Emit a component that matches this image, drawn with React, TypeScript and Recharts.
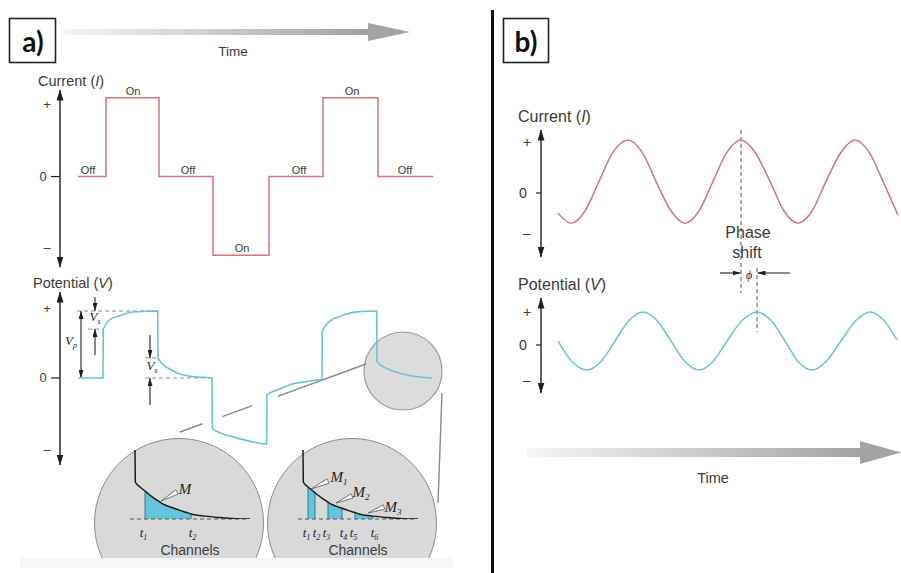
import React from 'react';
import {
  Area,
  ComposedChart,
  Line,
  LineChart,
  ReferenceDot,
  ReferenceLine,
  XAxis,
  YAxis,
} from 'recharts';

const INK = '#1f1f1f';
const TEXT = '#3b3b3b';
const RED = '#d8737b';
const BLUE = '#6fc2d6';
const CHANNEL_FILL = '#62c5dc';
const GUIDE = '#8a8a8a';
const SANS = '"Liberation Sans", Arial, Helvetica, sans-serif';
const SERIF = '"Liberation Serif", "Times New Roman", serif';

// (a) time domain: square-wave transmitter current (time in ms from the axis)
const squareT = [18, 46, 99, 153, 209, 263, 318, 373];
const squareI = [0, 1, 0, -1, 0, 1, 0, 0];
const stateT = [28, 73, 128, 182, 239, 292, 345];
const stateText = ['Off', 'On', 'Off', 'On', 'Off', 'On', 'Off'];
const squareTicks = [0.92, 0, -0.9];

// (a) received potential, normalised so the primary voltage Vp = 1
const potT = [18, 43, 43.3, 50, 60, 73, 97.7, 98, 104, 110, 120, 133, 152, 152.3, 160, 173, 193, 206.7, 207, 217, 230, 250, 262, 262.3, 270, 280, 293, 316.7, 317, 323, 330, 347, 372];
const potV = [0, 0, 0.73, 0.87, 0.93, 0.985, 1, 0.3, 0.19, 0.13, 0.06, 0.02, 0, -0.75, -0.82, -0.88, -0.955, -0.985, -0.25, -0.18, -0.1, -0.045, -0.015, 0.69, 0.85, 0.92, 0.98, 1, 0.25, 0.17, 0.12, 0.045, 0];
const potTicks = [1.04, 0, -1.07];

// (b) frequency domain: sinusoidal current and the lagging potential
const acT = [17, 30, 44, 58, 72, 87, 101, 115, 130, 144, 158, 172, 186, 200, 214, 229, 243, 257, 271, 285, 300, 314, 328, 342, 357];
const acI = [-0.38, -0.57, -0.34, 0.22, 0.77, 1, 0.77, 0.22, -0.34, -0.57, -0.34, 0.22, 0.77, 1, 0.77, 0.22, -0.34, -0.57, -0.34, 0.22, 0.77, 1, 0.77, 0.22, -0.42];
const acTicks = [0.96, 0, -0.75];
const acPotT = [17, 31, 46, 60, 74, 88, 102, 116, 130, 144, 158, 172, 186, 201, 216, 230, 244, 257, 271, 285, 300, 315, 329, 343, 356];
const acPotV = [0.12, -0.5, -0.76, -0.5, 0.12, 0.74, 1, 0.74, 0.12, -0.5, -0.76, -0.5, 0.12, 0.74, 1, 0.74, 0.12, -0.5, -0.76, -0.5, 0.12, 0.74, 1, 0.74, 0.15];
const acPotTicks = [1, 0, -1.06];
const currentPeakT = 200;
const potentialPeakT = 216;

// decay after switch-off, shown in the magnified windows
const decayT = [10, 10.3, 15, 20, 22, 30, 35, 40, 49, 55, 62, 66, 80, 95, 110, 125];
const decayV = [1.92, 1.03, 0.89, 0.78, 0.73, 0.56, 0.47, 0.39, 0.3, 0.24, 0.18, 0.14, 0.08, 0.04, 0.01, 0];
const singleGate = [20, 66];
const multiGates = [15, 22, 35, 49, 62, 80];

const squareRows = squareT.map((t, k) => ({ t, i: squareI[k] }));
const potRows = potT.map((t, k) => ({ t, v: potV[k] }));
const acRows = acT.map((t, k) => ({ t, i: acI[k] }));
const acPotRows = acPotT.map((t, k) => ({ t, v: acPotV[k] }));

const inGates = (t: number, edges: number[]) => {
  for (let k = 0; k < edges.length; k += 2) if (t >= edges[k] && t <= edges[k + 1]) return true;
  return false;
};
const decayRows = decayT.map((t, k) => ({
  t,
  v: decayV[k],
  single: inGates(t, singleGate) ? decayV[k] : null,
  multi: inGates(t, multiGates) ? decayV[k] : null,
}));
const decayAt = (t: number) => decayV[decayT.indexOf(t)];
const levelAt = (t: number) => {
  let lvl = 0;
  squareT.forEach((s, k) => {
    if (s <= t) lvl = squareI[k];
  });
  return lvl;
};

const axisArrows = {
  stroke: INK,
  strokeWidth: 1.4,
  markerStart: 'url(#axisHead)',
  markerEnd: 'url(#axisHead)',
};

const signTick = (tickLen: number, gap: number, size: number) => (p: any) => {
  const v = p.payload.value;
  if (v === 0) {
    return (
      <g>
        <line x1={p.x - tickLen} y1={p.y} x2={p.x} y2={p.y} stroke={INK} strokeWidth={1.2} />
        <text x={p.x - gap - 4} y={p.y} textAnchor="middle" dominantBaseline="central" fontSize={size} fill={TEXT} fontFamily={SANS}>0</text>
      </g>
    );
  }
  return (
    <text x={p.x - gap} y={p.y} textAnchor="middle" dominantBaseline="central" fontSize={size} fill={TEXT} fontFamily={SANS}>
      {v > 0 ? '+' : '–'}
    </text>
  );
};

// gate labels t1, t2, ... nudged apart so neighbouring edges stay legible
const channelTick = (p: any) => (
  <text
    x={p.x + (p.index % 2 === 0 ? -1.5 : 1.5)}
    y={p.y + 18}
    textAnchor="middle"
    fontFamily={SERIF}
    fontStyle="italic"
    fontSize={13}
    fill={INK}
  >
    t<tspan fontSize={8} dy={3}>{p.index + 1}</tspan>
  </text>
);

const arrowShape = (both: boolean) => (p: any) => (
  <line
    x1={p.x1}
    y1={p.y1}
    x2={p.x2}
    y2={p.y2}
    stroke={INK}
    strokeWidth={1.1}
    markerEnd="url(#smallHead)"
    markerStart={both ? 'url(#smallHead)' : undefined}
  />
);

const Tag = ({ x, y, size = 13, anchor = 'middle', style, children }: any) => (
  <div
    style={{
      position: 'absolute',
      left: x,
      top: y,
      transform: `translate(${anchor === 'start' ? '0' : '-50%'}, -50%)`,
      fontSize: size,
      lineHeight: 1,
      whiteSpace: 'nowrap',
      color: TEXT,
      fontFamily: SANS,
      ...style,
    }}
  >
    {children}
  </div>
);

const Sym = ({ base, sub, size = 13 }: any) => (
  <span style={{ fontFamily: SERIF, fontStyle: 'italic', fontSize: size, color: INK }}>
    {base}
    {sub && <sub style={{ fontSize: size * 0.6, verticalAlign: -3 }}>{sub}</sub>}
  </span>
);

const Place = ({ left, top, children }: any) => (
  <div style={{ position: 'absolute', left, top }}>{children}</div>
);

const NO_MARGIN = { top: 0, right: 0, bottom: 0, left: 0 };

const DecayWindow = ({ field, gates }: { field: string; gates: number[] }) => (
  <ComposedChart width={130} height={114} data={decayRows} margin={NO_MARGIN}>
    <XAxis
      type="number"
      dataKey="t"
      domain={[0, 130]}
      allowDataOverflow
      ticks={gates}
      interval={0}
      axisLine={false}
      tickLine={false}
      tickSize={0}
      tickMargin={0}
      height={40}
      tick={channelTick}
      label={{ value: 'Channels', position: 'insideBottom', offset: 4, fontSize: 14, fill: TEXT, fontFamily: SANS }}
    />
    <YAxis type="number" domain={[0, 2.06]} allowDataOverflow hide />
    <ReferenceLine segment={[{ x: 5, y: 0 }, { x: 123, y: 0 }]} stroke="#555" strokeDasharray="4 3" ifOverflow="visible" />
    <Area
      type="monotone"
      dataKey={field}
      fill={CHANNEL_FILL}
      fillOpacity={1}
      stroke="none"
      baseValue={0}
      connectNulls={false}
      isAnimationActive={false}
    />
    {gates.map((g) => (
      <ReferenceLine key={g} segment={[{ x: g, y: 0 }, { x: g, y: decayAt(g) }]} stroke="#2d7c90" ifOverflow="visible" />
    ))}
    <Line type="monotone" dataKey="v" stroke="#1c1c1c" strokeWidth={1.5} dot={false} isAnimationActive={false} />
  </ComposedChart>
);

const Leader = ({ tip, base }: { tip: number[]; base: number[] }) => {
  const dx = base[0] - tip[0];
  const dy = base[1] - tip[1];
  const len = Math.hypot(dx, dy);
  const px = (-dy / len) * 2.4;
  const py = (dx / len) * 2.4;
  return (
    <polygon
      points={`${tip[0]},${tip[1]} ${base[0] + px},${base[1] + py} ${base[0] - px},${base[1] - py}`}
      fill="#fff"
      stroke="#555"
      strokeWidth={0.8}
    />
  );
};

const Disc = () => (
  <div
    style={{
      position: 'absolute',
      left: 0,
      top: 0,
      width: 170,
      height: 170,
      borderRadius: '50%',
      background: '#d9d9d9',
      border: '1.5px solid #8c8c8c',
      boxSizing: 'border-box',
    }}
  />
);

export default function App() {
  return (
    <div
      style={{
        position: 'absolute',
        left: 0,
        top: 0,
        width: 901,
        height: 573,
        background: '#fff',
        overflow: 'hidden',
        fontFamily: SANS,
      }}
    >
      {/* background layer: arrows, magnifier, divider */}
      <svg width={901} height={573} style={{ position: 'absolute', left: 0, top: 0 }}>
        <defs>
          <marker id="axisHead" viewBox="0 0 11 7" refX={10.5} refY={3.5} markerWidth={11} markerHeight={7} markerUnits="userSpaceOnUse" orient="auto-start-reverse">
            <path d="M0,0 L11,3.5 L0,7 Z" fill={INK} />
          </marker>
          <marker id="smallHead" viewBox="0 0 8 5" refX={8} refY={2.5} markerWidth={8} markerHeight={5} markerUnits="userSpaceOnUse" orient="auto-start-reverse">
            <path d="M0,0 L8,2.5 L0,5 Z" fill={INK} />
          </marker>
          <linearGradient id="timeShaft" x1="0" y1="0" x2="1" y2="0">
            <stop offset="0" stopColor="#f6f6f6" />
            <stop offset="1" stopColor="#a2a2a2" />
          </linearGradient>
        </defs>
        <rect x={20} y={558} width={433} height={10} fill="#f8f8f8" />
        <rect x={63} y={29} width={306} height={6} fill="url(#timeShaft)" />
        <polygon points="368,23 410,32 368,41" fill="#a3a3a3" />
        <rect x={527} y={448} width={334} height={9} fill="url(#timeShaft)" />
        <polygon points="860,441 901,452.5 860,464" fill="#a3a3a3" />
        <circle cx={403} cy={371} r={39} fill="#dcdcdc" stroke="#999" strokeWidth={1.2} />
        <line x1={180} y1={432} x2={366} y2={364} stroke={GUIDE} strokeWidth={1.4} strokeDasharray="24 21 32 27 100" />
        <line x1={442} y1={393} x2={438} y2={503} stroke={GUIDE} strokeWidth={1.4} />
        <rect x={491} y={10} width={3} height={563} fill="#111" />
      </svg>

      {/* (a) current */}
      <Place left={20} top={76}>
        <LineChart width={420} height={191} data={squareRows} margin={{ top: 14, right: 0, bottom: 0, left: 0 }}>
          <XAxis type="number" dataKey="t" domain={[0, 380]} allowDataOverflow hide />
          <YAxis
            type="number"
            domain={[-1.15, 1.1]}
            allowDataOverflow
            ticks={squareTicks}
            interval={0}
            width={40}
            tickLine={false}
            tickSize={0}
            tickMargin={0}
            axisLine={axisArrows}
            tick={signTick(9, 13, 13)}
          />
          <Line type="stepAfter" dataKey="i" stroke={RED} strokeWidth={1.5} dot={false} isAnimationActive={false} />
          {stateT.map((t, k) => (
            <ReferenceDot
              key={t}
              x={t}
              y={levelAt(t)}
              r={0}
              fill="none"
              stroke="none"
              label={{ value: stateText[k], position: 'top', offset: 3, fontSize: 11, fill: TEXT, fontFamily: SANS }}
            />
          ))}
        </LineChart>
      </Place>

      {/* (a) potential */}
      <Place left={20} top={292}>
        <LineChart width={420} height={173} data={potRows} margin={NO_MARGIN}>
          <XAxis type="number" dataKey="t" domain={[0, 380]} allowDataOverflow hide />
          <YAxis
            type="number"
            domain={[-1.3, 1.284]}
            allowDataOverflow
            ticks={potTicks}
            interval={0}
            width={40}
            tickLine={false}
            tickSize={0}
            tickMargin={0}
            axisLine={axisArrows}
            tick={signTick(9, 13, 13)}
          />
          <ReferenceLine segment={[{ x: 17, y: 1 }, { x: 98, y: 1 }]} stroke={GUIDE} strokeDasharray="4 3" ifOverflow="visible" />
          <ReferenceLine segment={[{ x: 28, y: 0.73 }, { x: 43, y: 0.73 }]} stroke={GUIDE} strokeDasharray="4 3" ifOverflow="visible" />
          <ReferenceLine segment={[{ x: 85, y: 0.3 }, { x: 98, y: 0.3 }]} stroke={GUIDE} strokeDasharray="4 3" ifOverflow="visible" />
          <ReferenceLine segment={[{ x: 85, y: 0 }, { x: 153, y: 0 }]} stroke={GUIDE} strokeDasharray="4 3" ifOverflow="visible" />
          <ReferenceLine segment={[{ x: 21, y: 0 }, { x: 21, y: 1 }]} ifOverflow="visible" shape={arrowShape(true)} />
          <ReferenceLine segment={[{ x: 35, y: 1.21 }, { x: 35, y: 1 }]} ifOverflow="visible" shape={arrowShape(false)} />
          <ReferenceLine segment={[{ x: 35, y: 0.34 }, { x: 35, y: 0.73 }]} ifOverflow="visible" shape={arrowShape(false)} />
          <ReferenceLine segment={[{ x: 90, y: 0.64 }, { x: 90, y: 0.3 }]} ifOverflow="visible" shape={arrowShape(false)} />
          <ReferenceLine segment={[{ x: 90, y: -0.4 }, { x: 90, y: 0 }]} ifOverflow="visible" shape={arrowShape(false)} />
          <Line type="monotone" dataKey="v" stroke={BLUE} strokeWidth={1.6} dot={false} isAnimationActive={false} />
        </LineChart>
      </Place>

      {/* (b) current */}
      <Place left={501} top={130}>
        <LineChart width={399} height={170} data={acRows} margin={{ top: 0, right: 0, bottom: 43, left: 0 }}>
          <XAxis type="number" dataKey="t" domain={[0, 359]} allowDataOverflow hide />
          <YAxis
            type="number"
            domain={[-1.208, 1.189]}
            allowDataOverflow
            ticks={acTicks}
            interval={0}
            width={40}
            tickLine={false}
            tickSize={0}
            tickMargin={0}
            axisLine={axisArrows}
            tick={signTick(5, 14, 14)}
          />
          <ReferenceLine segment={[{ x: currentPeakT, y: 1.19 }, { x: currentPeakT, y: -1.89 }]} stroke="#555" strokeDasharray="4 3" ifOverflow="visible" />
          <ReferenceLine segment={[{ x: 179, y: -1.51 }, { x: currentPeakT - 0.5, y: -1.51 }]} ifOverflow="visible" shape={arrowShape(false)} />
          <ReferenceLine segment={[{ x: 249, y: -1.51 }, { x: potentialPeakT + 0.5, y: -1.51 }]} ifOverflow="visible" shape={arrowShape(false)} />
          <Line type="monotone" dataKey="i" stroke={RED} strokeWidth={1.5} dot={false} isAnimationActive={false} />
        </LineChart>
      </Place>

      {/* (b) potential */}
      <Place left={501} top={265}>
        <LineChart width={399} height={128} data={acPotRows} margin={{ top: 33, right: 0, bottom: 0, left: 0 }}>
          <XAxis type="number" dataKey="t" domain={[0, 359]} allowDataOverflow hide />
          <YAxis
            type="number"
            domain={[-1.455, 1.424]}
            allowDataOverflow
            ticks={acPotTicks}
            interval={0}
            width={40}
            tickLine={false}
            tickSize={0}
            tickMargin={0}
            axisLine={axisArrows}
            tick={signTick(5, 14, 14)}
          />
          <ReferenceLine segment={[{ x: potentialPeakT, y: 2.33 }, { x: potentialPeakT, y: 0.39 }]} stroke="#555" strokeDasharray="4 3" ifOverflow="visible" />
          <Line type="monotone" dataKey="v" stroke={BLUE} strokeWidth={1.5} dot={false} isAnimationActive={false} />
        </LineChart>
      </Place>

      {/* magnified decay windows */}
      <div style={{ position: 'absolute', left: 94, top: 438, width: 170, height: 120, overflow: 'hidden' }}>
        <Disc />
        <Place left={31} top={7}>
          <DecayWindow field="single" gates={singleGate} />
        </Place>
      </div>
      <div style={{ position: 'absolute', left: 267, top: 438, width: 170, height: 120, overflow: 'hidden' }}>
        <Disc />
        <Place left={26} top={7}>
          <DecayWindow field="multi" gates={multiGates} />
        </Place>
      </div>

      {/* foreground: panel boxes, callouts */}
      <svg width={901} height={573} style={{ position: 'absolute', left: 0, top: 0, pointerEvents: 'none' }}>
        <rect x={9.5} y={18.5} width={46} height={44} fill="#fff" stroke="#222" strokeWidth={1.6} />
        <rect x={503.5} y={18.5} width={45} height={44} fill="#fff" stroke="#222" strokeWidth={1.6} />
        <Leader tip={[161, 501]} base={[177, 492]} />
        <Leader tip={[311, 489]} base={[328, 481]} />
        <Leader tip={[336, 503]} base={[352, 496]} />
        <Leader tip={[368, 513]} base={[384, 507]} />
      </svg>

      <Tag x={33} y={41} size={28} style={{ fontFamily: 'Lato, sans-serif', fontWeight: 700, color: '#111' }}>a)</Tag>
      <Tag x={526} y={41} size={28} style={{ fontFamily: 'Lato, sans-serif', fontWeight: 700, color: '#111' }}>b)</Tag>

      <Tag x={233} y={52} size={13.5}>Time</Tag>
      <Tag x={713} y={478} size={14.5}>Time</Tag>

      <Tag x={38} y={81} size={14.5} anchor="start">
        Current (<i>I</i>)
      </Tag>
      <Tag x={33} y={283} size={14.5} anchor="start">
        Potential (<i>V</i>)
      </Tag>
      <Tag x={518} y={117} size={16} anchor="start">
        Current (<i>I</i>)
      </Tag>
      <Tag x={518} y={285} size={16} anchor="start">
        Potential (<i>V</i>)
      </Tag>

      <Tag x={748} y={233} size={16}>Phase</Tag>
      <Tag x={747} y={253} size={16}>shift</Tag>
      <Tag x={749} y={274}>
        <Sym base="ϕ" size={12} />
      </Tag>

      <Tag x={71} y={342}>
        <Sym base="V" sub="p" />
      </Tag>
      <Tag x={95} y={318}>
        <Sym base="V" sub="s" />
      </Tag>
      <Tag x={152} y={367}>
        <Sym base="V" sub="s" />
      </Tag>

      <Tag x={185} y={489}>
        <Sym base="M" size={15} />
      </Tag>
      <Tag x={339} y={478}>
        <Sym base="M" sub="1" size={15} />
      </Tag>
      <Tag x={361} y={493}>
        <Sym base="M" sub="2" size={15} />
      </Tag>
      <Tag x={393} y={508}>
        <Sym base="M" sub="3" size={15} />
      </Tag>
    </div>
  );
}
